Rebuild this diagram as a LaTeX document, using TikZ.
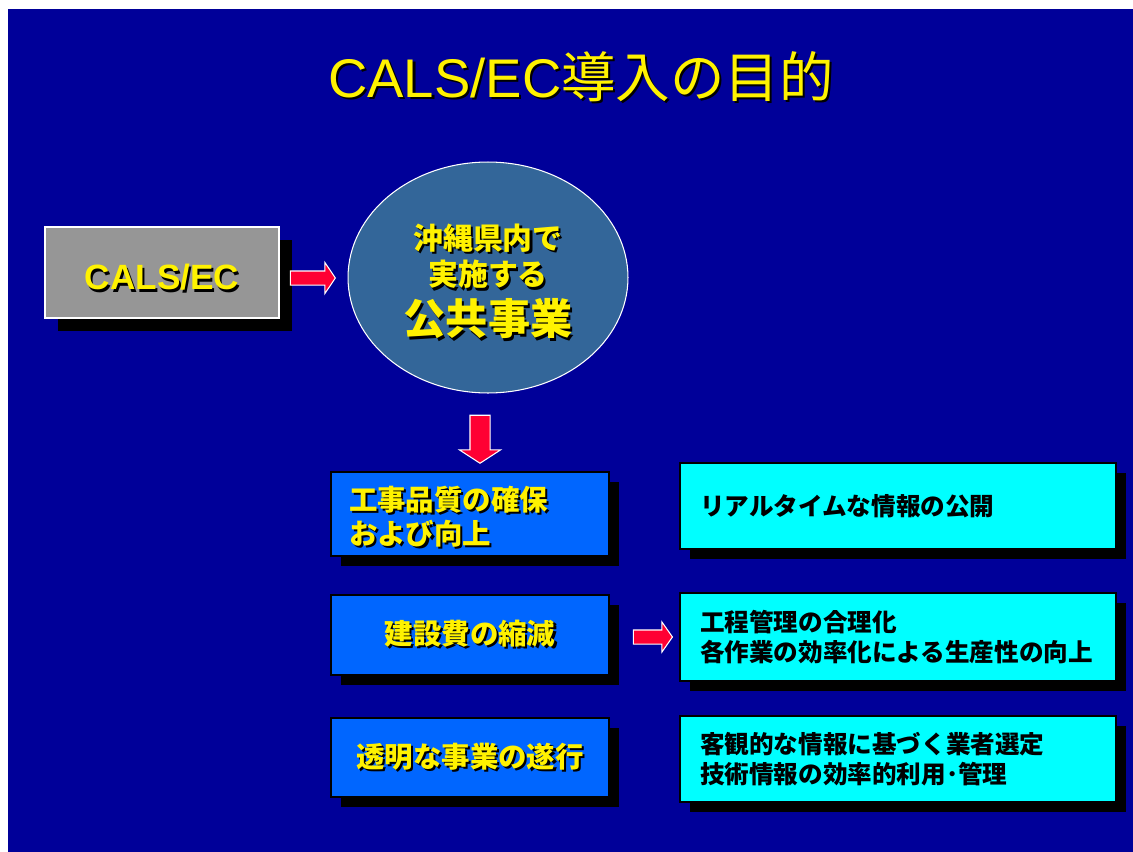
\documentclass[tikz,border=0pt]{standalone}
\usepackage{fontspec}
\setmainfont{Liberation Sans}
\newfontfamily\cjk{Noto Sans CJK JP}
\usetikzlibrary{positioning,shapes.geometric,shapes.arrows,shadows}
\definecolor{slideblue}{HTML}{000099}
\definecolor{goalblue}{HTML}{0066FF}
\definecolor{ovalblue}{HTML}{336699}
\definecolor{calsgray}{HTML}{969696}
\definecolor{arrowred}{HTML}{FF0033}
\definecolor{effcyan}{HTML}{00FFFF}
% yellow text with a dark drop shadow
\newcommand\shd[2][black]{\leavevmode\rlap{\kern1.2pt\raisebox{-1.2pt}{\color{#1}#2}}#2}
% move the ink down, keep the box
\newcommand\lowr[2]{\raisebox{-#1}[\height][\depth]{#2}}
\tikzset{
  x=0.02cm, y=-0.02cm,
  boxshadow/.style={general shadow={fill=black, shadow xshift=#1, shadow yshift=-#1}},
  calsbox/.style={
    rectangle,
    fill=calsgray,
    draw=white, line width=0.6pt,
    minimum width=4.68cm,
    minimum height=1.82cm,
    boxshadow=0.26cm,
    text=yellow,
    font=\bfseries\fontsize{20}{24}\selectfont},
  pubellipse/.style={
    ellipse,
    fill=ovalblue,
    draw=white, line width=0.6pt,
    minimum width=5.6cm,
    minimum height=4.62cm,
    inner sep=0pt,
    text=yellow,
    font=\cjk\bfseries\fontsize{17}{20.6}\selectfont},
  goalbox/.style={
    rectangle,
    fill=goalblue,
    draw=black, line width=1.1pt,
    minimum width=5.56cm,
    inner xsep=0pt,
    boxshadow=0.2cm,
    text=yellow,
    font=\cjk\bfseries\fontsize{16.2}{19.3}\selectfont},
  effectbox/.style={
    rectangle,
    fill=effcyan,
    draw=black, line width=0.8pt,
    minimum width=8.72cm,
    inner xsep=0pt,
    text width=7.92cm,
    align=left,
    boxshadow=0.2cm,
    text=black,
    font=\cjk\bfseries\fontsize{14}{17}\selectfont},
  blockarrow/.style={
    single arrow,
    fill=arrowred,
    draw=white, line width=0.6pt,
    inner sep=0pt,
    text depth=0pt,
    single arrow head indent=0pt},
}
\begin{document}
\begin{tikzpicture}
  \useasboundingbox (0,0) rectangle (1133,852);
  \fill[white] (0,0) rectangle (1133,852);
  \fill[slideblue] (8,9) rectangle (1133,852);

  \node[text=yellow, font=\fontsize{31}{37}\selectfont] (title) at (581,78)
    {\shd{CALS/EC{\cjk 導入の目的}}};

  \node[calsbox] (cals) at (162,272.5) {\lowr{3.5pt}{\shd{CALS/EC}}};
  \node[blockarrow, text height=0.26cm, minimum height=0.9cm,
    single arrow head extend=0.17cm, single arrow tip angle=112] (a-cals) at (310.5,278) {};
  \node[pubellipse] (pub) at (488,277.5)
    {\lowr{3pt}{\parbox{3.6cm}{\centering\shd{沖縄県内で}\\\shd{実施する}\\[3.5pt]
      {\fontsize{24}{29}\selectfont\shd{公共事業}}}}};

  \node[blockarrow, rotate=-90, text height=0.38cm, minimum height=0.96cm,
    single arrow head extend=0.21cm, single arrow tip angle=114] (a-pub) at (480,436) {};

  % goals
  \node[goalbox, minimum height=1.68cm] (quality) at (470,514)
    {\lowr{2pt}{\parbox{4.84cm}{\shd{工事品質の確保}\\\shd{および向上}}}};
  \node[goalbox, minimum height=1.6cm] (cost) at (470,635) {\shd{建設費の縮減}};
  \node[goalbox, minimum height=1.58cm] (clear) at (470,757.5) {\shd{透明な事業の遂行}};

  % effects
  \node[effectbox, minimum height=1.72cm] (public) at (898,506) {リアルタイムな情報の公開};
  \node[effectbox, minimum height=1.76cm] (process) at (898,637)
    {工程管理の合理化\\各作業の効率化による生産性の向上};
  \node[effectbox, minimum height=1.72cm] (select) at (898,759)
    {客観的な情報に基づく業者選定\\技術情報の効率的利用･管理};

  \node[blockarrow, text height=0.26cm, minimum height=0.78cm,
    single arrow head extend=0.16cm, single arrow tip angle=110] (a-cost) at (650.5,637) {};
\end{tikzpicture}
\end{document}
